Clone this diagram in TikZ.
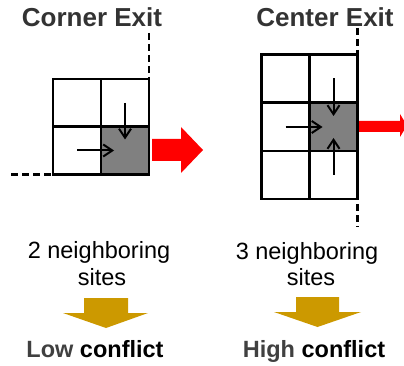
\documentclass[tikz,border=0pt]{standalone}
\usepackage{fontspec}
\setmainfont{Liberation Sans}
\usetikzlibrary{arrows.meta}
\definecolor{gold}{RGB}{204,153,0}
\definecolor{titlegray}{RGB}{51,51,51}
\definecolor{lowgray}{RGB}{64,64,64}
\definecolor{cellgray}{RGB}{128,128,128}
\tikzset{
  cell/.style={draw=black, line width=2.5pt, minimum width=48pt, minimum height=48pt, inner sep=0pt, outer sep=0pt},
  exitcell/.style={cell, fill=cellgray},
  dashline/.style={draw=black, line width=2.5pt, dash pattern=on 7pt off 4pt},
  moveto/.style={draw=black, line width=2pt, -{Straight Barb[length=9pt,width=12pt,line width=2pt]}, shorten >=11pt},
  redarrow/.style={fill=red, draw=none},
  goldarrow/.style={fill=gold, draw=none},
  title/.style={font=\fontsize{26}{30}\selectfont\bfseries, text=titlegray, anchor=base, inner sep=0pt},
  note/.style={font=\fontsize{23.5}{27}\selectfont, text=black, anchor=base, inner sep=0pt},
  verdict/.style={font=\fontsize{23.5}{27}\selectfont\bfseries, anchor=base, inner sep=0pt}
}
\begin{document}
\begin{tikzpicture}[x=1pt, y=-1pt]
\useasboundingbox (0,0) rectangle (404,366);
% titles
\node[title] (t1) at (92,27) {Corner Exit};
\node[title] (t2) at (325,27) {Center Exit};
% left grid
\node[cell] (L11) at (77,103) {};
\node[cell] (L12) at (125,103) {};
\node[cell] (L21) at (77,150.5) {};
\node[exitcell] (L22) at (125,150.5) {};
\draw[moveto] (L12.center) -- (L22.center);
\draw[moveto] (L21.center) -- (L22.center);
\coordinate (LdTop) at (149,33);
\coordinate (LdL) at (11,174.5);
\coordinate (LdR) at (67,174.5);
\draw[dashline] (LdTop) -- (L12.north east);
\draw[dashline] (LdL) -- (LdR);
\fill[redarrow] (152,139) -- (181,139) -- (181,127) -- (203,150) -- (181,173) -- (181,161) -- (152,161) -- cycle;
% right grid
\node[cell] (R11) at (285.5,78.5) {};
\node[cell] (R12) at (333.5,78.5) {};
\node[cell] (R21) at (285.5,127) {};
\node[exitcell] (R22) at (333.5,127) {};
\node[cell] (R31) at (285.5,175) {};
\node[cell] (R32) at (333.5,175) {};
\draw[moveto] (R12.center) -- (R22.center);
\draw[moveto] (R32.center) -- (R22.center);
\draw[moveto] (R21.center) -- (R22.center);
\coordinate (RdTop) at (357.5,28);
\coordinate (RdBot) at (357.5,227);
\draw[dashline] (RdTop) -- (RdBot);
\fill[redarrow] (359,121) -- (400,121) -- (400,114) -- (407,125.5) -- (400,137) -- (400,132) -- (359,132) -- cycle;
% bottom texts
\node[note] (n1a) at (99,258) {2 neighboring};
\node[note] (n1b) at (102,285) {sites};
\node[note] (n2a) at (307,259) {3 neighboring};
\node[note] (n2b) at (311,285) {sites};
\fill[goldarrow] (84,298) -- (128,298) -- (128,313) -- (148,313) -- (106,328) -- (63,313) -- (84,313) -- cycle;
\fill[goldarrow] (296,297) -- (339,297) -- (339,312) -- (361,312) -- (317.5,327) -- (274,312) -- (296,312) -- cycle;
\node[verdict] (v1) at (95,357) {\textcolor{lowgray}{Low} conflict};
\node[verdict] (v2) at (314,357) {\textcolor{lowgray}{High} conflict};
\end{tikzpicture}
\end{document}
